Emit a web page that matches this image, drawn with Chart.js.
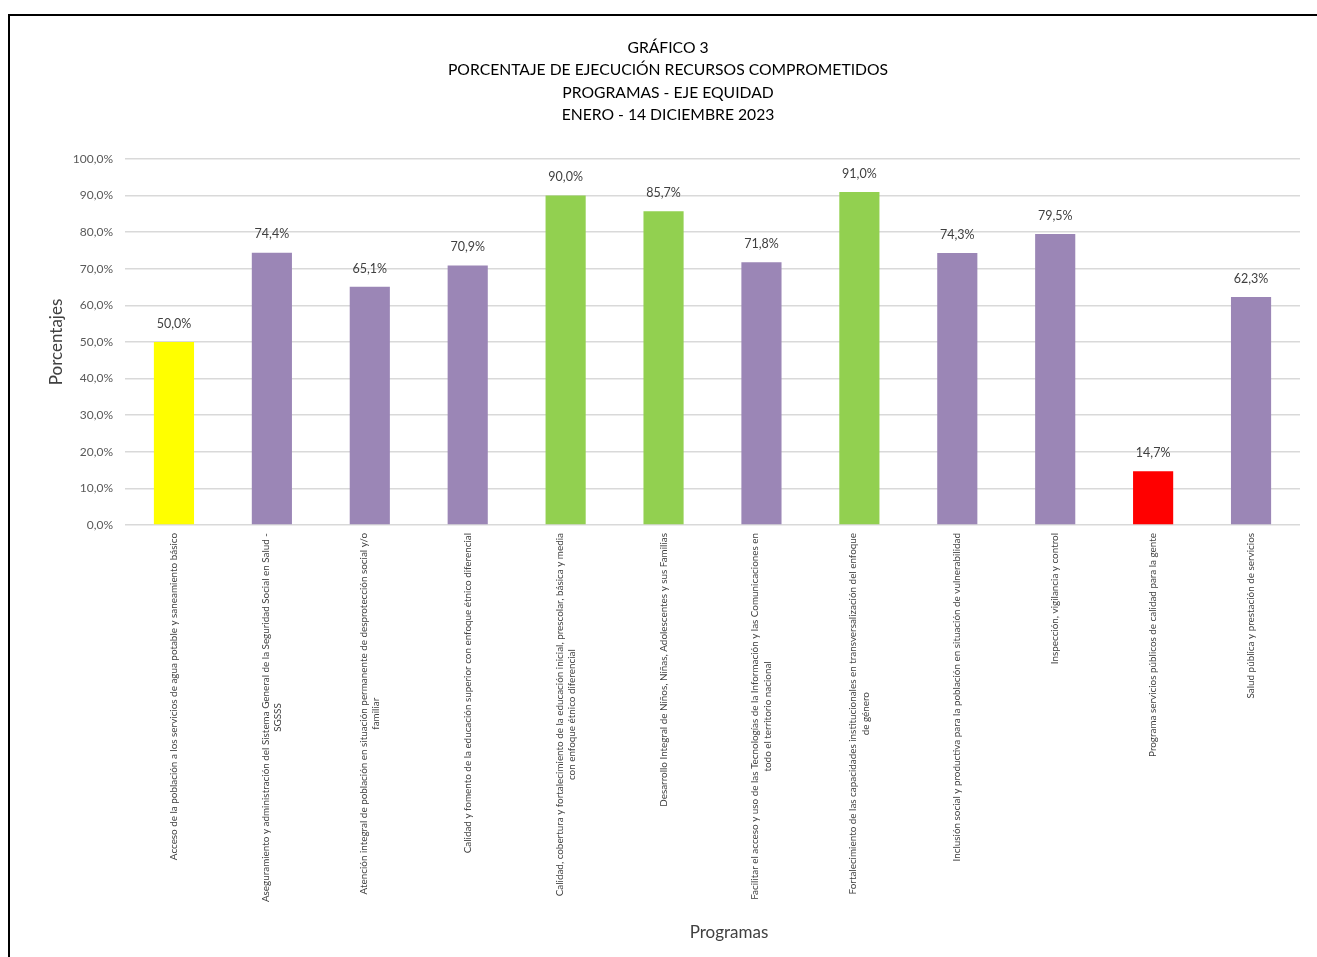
<!DOCTYPE html>
<html>
<head>
<meta charset="utf-8">
<script src="https://cdn.jsdelivr.net/npm/chart.js"></script>
<style>
  html, body { margin: 0; padding: 0; overflow: hidden; background: #fff; }
  #frame { position: absolute; left: 8px; top: 14px; width: 1400px; height: 1000px; border-top: 2px solid #000; border-left: 2px solid #000; }
  #wrap { position: absolute; left: 0; top: 0; width: 1336px; height: 957px; }
</style>
</head>
<body>
<div id="frame"></div>
<div id="wrap"><canvas id="chart"></canvas></div>
<script>
const titleLines = ['GRÁFICO 3', 'PORCENTAJE DE EJECUCIÓN RECURSOS COMPROMETIDOS', 'PROGRAMAS - EJE EQUIDAD', 'ENERO - 14 DICIEMBRE 2023'];

const programas = [
    ['Acceso de la población a los servicios de agua potable y saneamiento básico'],
    ['Aseguramiento y administración del Sistema General de la Seguridad Social en Salud -', 'SGSSS'],
    ['Atención integral de población en situación permanente de desprotección social y/o', 'familiar'],
    ['Calidad y fomento de la educación superior con enfoque étnico diferencial'],
    ['Calidad, cobertura y fortalecimiento de la educación inicial, prescolar, básica y media', 'con enfoque étnico diferencial'],
    ['Desarrollo Integral de Niños, Niñas, Adolescentes y sus Familias'],
    ['Facilitar el acceso y uso de las Tecnologías de la Información y las Comunicaciones en', 'todo el territorio nacional'],
    ['Fortalecimiento de las capacidades institucionales en transversalización del enfoque', 'de género'],
    ['Inclusión social y productiva para la población en situación de vulnerabilidad'],
    ['Inspección, vigilancia y control'],
    ['Programa servicios públicos de calidad para la gente'],
    ['Salud pública y prestación de servicios']
];

const porcentajes = [50.0, 74.4, 65.1, 70.9, 90.0, 85.7, 71.8, 91.0, 74.3, 79.5, 14.7, 62.3];

const colores = ['#FFFF00', '#9B86B6', '#9B86B6', '#9B86B6', '#92D050', '#92D050',
    '#9B86B6', '#92D050', '#9B86B6', '#9B86B6', '#FF0000', '#9B86B6'];

const FONT = 'Lato, "Open Sans", sans-serif';

function fmt(v) {
    return v.toFixed(1).replace('.', ',') + '%';
}

// main title (centred on the whole frame) and x axis title
const titles = {
    id: 'titles',
    afterDraw(chart) {
        const ctx = chart.ctx;
        ctx.save();
        ctx.font = '15.7px ' + FONT;
        ctx.fillStyle = '#000';
        ctx.textAlign = 'center';
        ctx.textBaseline = 'middle';
        titleLines.forEach((t, i) => ctx.fillText(t, chart.width / 2, 47.5 + i * 22.6));
        ctx.font = '17px ' + FONT;
        ctx.fillStyle = '#404040';
        ctx.fillText('Programas', 729, 933);
        ctx.restore();
    }
};

// value labels above each bar
const valueLabels = {
    id: 'valueLabels',
    afterDatasetsDraw(chart) {
        const ctx = chart.ctx;
        const meta = chart.getDatasetMeta(0);
        ctx.save();
        ctx.font = '12.5px ' + FONT;
        ctx.fillStyle = '#404040';
        ctx.textAlign = 'center';
        ctx.textBaseline = 'bottom';
        meta.data.forEach((bar, i) => {
            ctx.fillText(fmt(porcentajes[i]), bar.x, bar.y - 12);
        });
        ctx.restore();
    }
};

// rotated category labels, lines centred on each other like Excel
const categoryLabels = {
    id: 'categoryLabels',
    afterDraw(chart) {
        const ctx = chart.ctx;
        const xs = chart.scales.x;
        const top = chart.chartArea.bottom + 8;
        const lh = 12.5;
        ctx.save();
        ctx.font = '9.9px ' + FONT;
        ctx.fillStyle = '#404040';
        ctx.textAlign = 'center';
        ctx.textBaseline = 'middle';
        programas.forEach((lines, i) => {
            const x = xs.getPixelForValue(i);
            const w = Math.max(...lines.map(l => ctx.measureText(l).width));
            lines.forEach((line, j) => {
                ctx.save();
                ctx.translate(x + (j - (lines.length - 1) / 2) * lh, top + w / 2);
                ctx.rotate(-Math.PI / 2);
                ctx.fillText(line, 0, 0);
                ctx.restore();
            });
        });
        ctx.restore();
    }
};

new Chart(document.getElementById('chart'), {
    type: 'bar',
    data: {
        labels: programas,
        datasets: [{
            label: 'Porcentaje',
            data: porcentajes,
            backgroundColor: colores,
            barPercentage: 0.41,
            categoryPercentage: 1
        }]
    },
    options: {
        responsive: true,
        maintainAspectRatio: false,
        animation: false,
        layout: { padding: { left: 0, right: 36, top: 159, bottom: 0 } },
        plugins: {
            legend: { display: false },
            tooltip: { enabled: false },
            title: { display: false }
        },
        scales: {
            x: {
                grid: { display: false },
                border: { display: false },
                ticks: { display: false },
                afterFit(scale) { scale.height = 432; }
            },
            y: {
                min: 0,
                max: 100,
                border: { display: false },
                grid: { color: '#D9D9D9', lineWidth: 1.5, drawTicks: false },
                ticks: {
                    stepSize: 10,
                    padding: 12,
                    color: '#595959',
                    font: { family: FONT, size: 12 },
                    callback: v => fmt(v)
                },
                title: {
                    display: true,
                    text: 'Porcentajes',
                    color: '#404040',
                    font: { family: FONT, size: 17 },
                    padding: { top: 46, bottom: 0 }
                },
                afterFit(scale) { scale.width = 125; }
            }
        }
    },
    plugins: [titles, valueLabels, categoryLabels]
});
</script>
</body>
</html>
